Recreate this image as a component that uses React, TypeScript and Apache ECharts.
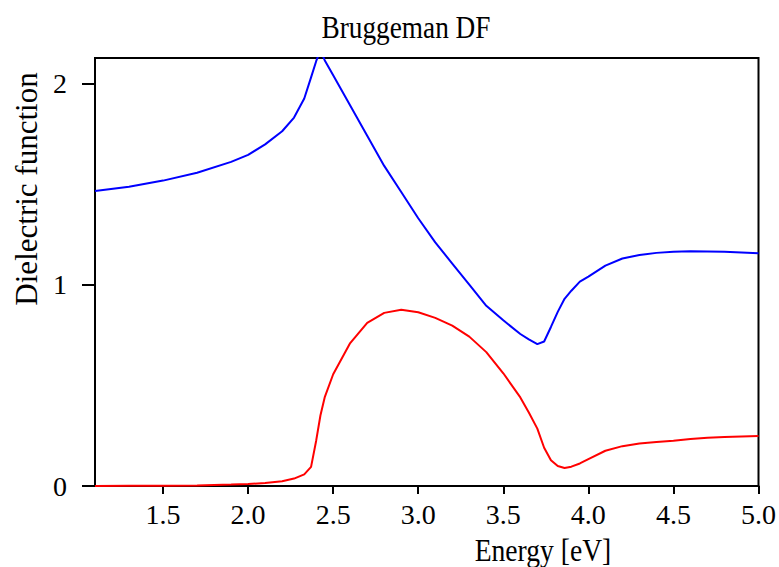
import React, { useEffect, useRef } from "react";
import * as echarts from "echarts";

// Photon energy grid [eV]
const energy = [
  1.1, 1.3, 1.5, 1.7, 1.9, 2.0, 2.1, 2.2, 2.27, 2.33, 2.37, 2.4, 2.425, 2.45, 2.5,
  2.6, 2.7, 2.8, 2.9, 3.0, 3.1, 3.2, 3.3, 3.4, 3.5, 3.6, 3.65, 3.7, 3.74, 3.78,
  3.82, 3.86, 3.9, 3.95, 4.0, 4.1, 4.2, 4.3, 4.4, 4.5, 4.6, 4.7, 4.8, 4.9, 5.0,
];

// Real part of the Bruggeman effective dielectric function
const epsReal = [
  1.465, 1.487, 1.517, 1.556, 1.61, 1.645, 1.697, 1.762, 1.83, 1.925, 2.03, 2.11, 2.165, 2.115, 2.04,
  1.89, 1.74, 1.59, 1.46, 1.33, 1.21, 1.105, 1.0, 0.895, 0.823, 0.755, 0.728, 0.705, 0.718, 0.79,
  0.865, 0.93, 0.97, 1.015, 1.04, 1.095, 1.13, 1.147, 1.158, 1.164, 1.166, 1.165, 1.163, 1.16, 1.156,
];

// Imaginary part
const epsImag = [
  0, 0.001, 0.001, 0.003, 0.007, 0.01, 0.015, 0.024, 0.037, 0.058, 0.095, 0.225, 0.35, 0.44, 0.555,
  0.71, 0.81, 0.86, 0.875, 0.863, 0.835, 0.797, 0.742, 0.665, 0.56, 0.44, 0.365, 0.285, 0.19, 0.128,
  0.099, 0.089, 0.096, 0.112, 0.133, 0.175, 0.198, 0.211, 0.218, 0.225, 0.234, 0.24, 0.244, 0.246, 0.248,
];

const xTicks = [1.5, 2.0, 2.5, 3.0, 3.5, 4.0, 4.5, 5.0];
const yTicks = [0, 1, 2];

const chartTitle = "Bruggeman DF";
const xTitle = "Energy [eV]";
const yTitle = "Dielectric function";

const SERIF = '"Liberation Serif", "Times New Roman", Times, serif';

export default function App() {
  const ref = useRef<HTMLDivElement>(null);

  useEffect(() => {
    if (!ref.current) return;
    const chart = echarts.init(ref.current, undefined, { renderer: "svg" });

    const pairs = (ys: number[]) => energy.map((e, i) => [e, ys[i]]);

    chart.setOption({
      animation: false,
      backgroundColor: "#ffffff",
      grid: {
        left: 95,
        top: 58,
        right: 20,
        bottom: 81,
        show: true,
        borderColor: "#000",
        borderWidth: 2,
        backgroundColor: "transparent",
      },
      xAxis: {
        type: "value",
        min: 1.1,
        max: 5.0,
        splitLine: { show: false },
        axisLine: { show: true, lineStyle: { color: "#000", width: 2 } },
        axisTick: {
          show: true,
          inside: false,
          length: 8,
          customValues: xTicks,
          lineStyle: { color: "#000", width: 2 },
        },
        axisLabel: {
          customValues: xTicks,
          formatter: (v: number) => v.toFixed(1),
          color: "#000",
          fontFamily: SERIF,
          fontSize: 28,
          margin: 14,
        },
      },
      yAxis: {
        type: "value",
        min: 0,
        max: 2.126,
        splitLine: { show: false },
        axisLine: { show: true, lineStyle: { color: "#000", width: 2 } },
        axisTick: {
          show: true,
          inside: false,
          length: 13,
          customValues: yTicks,
          lineStyle: { color: "#000", width: 2 },
        },
        axisLabel: {
          customValues: yTicks,
          formatter: (v: number) => String(v),
          color: "#000",
          fontFamily: SERIF,
          fontSize: 28,
          margin: 28,
        },
      },
      graphic: [
        {
          type: "text",
          x: 406,
          y: 27,
          scaleX: 0.88,
          style: {
            text: chartTitle,
            font: `31px ${SERIF}`,
            fill: "#000",
            textAlign: "center",
            textVerticalAlign: "middle",
          },
        },
        {
          type: "text",
          x: 543,
          y: 550,
          scaleX: 0.89,
          style: {
            text: xTitle,
            font: `31px ${SERIF}`,
            fill: "#000",
            textAlign: "center",
            textVerticalAlign: "middle",
          },
        },
        {
          type: "text",
          x: 26,
          y: 189,
          rotation: Math.PI / 2,
          style: {
            text: yTitle,
            font: `31px ${SERIF}`,
            fill: "#000",
            textAlign: "center",
            textVerticalAlign: "middle",
          },
        },
      ],
      series: [
        {
          type: "line",
          data: pairs(epsReal),
          showSymbol: false,
          smooth: false,
          clip: true,
          lineStyle: { color: "#0000ff", width: 2 },
          itemStyle: { color: "#0000ff" },
        },
        {
          type: "line",
          data: pairs(epsImag),
          showSymbol: false,
          smooth: false,
          clip: true,
          lineStyle: { color: "#ff0000", width: 2 },
          itemStyle: { color: "#ff0000" },
        },
      ],
    });

    return () => chart.dispose();
  }, []);

  return (
    <div
      ref={ref}
      style={{ position: "fixed", left: 0, top: 0, width: 779, height: 567 }}
    />
  );
}
